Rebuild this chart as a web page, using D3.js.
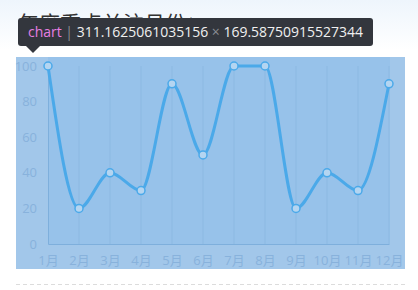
<!DOCTYPE html>
<html lang="zh">
<head>
<meta charset="UTF-8">
<title>年度重点关注月份</title>
<script src="https://d3js.org/d3.v7.min.js"></script>
<style>
    html, body { margin: 0; padding: 0; background: #fff; }
    svg { display: block; }
</style>
</head>
<body>
<svg id="chart" width="418" height="290"></svg>
<script>
    // 数据
    const months = ["1月", "2月", "3月", "4月", "5月", "6月", "7月", "8月", "9月", "10月", "11月", "12月"];
    const values = [100, 20, 40, 30, 90, 50, 100, 100, 20, 40, 30, 90];
    const yTicks = [0, 20, 40, 60, 80, 100];
    const title = "年度重点关注月份";
    const titleIcon = "\u2728\uFE0E"; // 文本样式的 ✨
    const tipParts = [
        { t: "chart", c: "#e77fe2" },
        { t: " | ", c: "#8a8d93" },
        { t: "311.1625061035156", c: "#f0f0f0" },
        { t: " × ", c: "#8a8d93" },
        { t: "169.58750915527344", c: "#f0f0f0" }
    ];

    const svg = d3.select("#chart");
    const font = "'Open Sans', 'Noto Sans CJK SC', sans-serif";

    // 顶部淡蓝背景
    const defs = svg.append("defs");
    const grad = defs.append("linearGradient").attr("id", "bg").attr("x1", 0).attr("y1", 0).attr("x2", 0).attr("y2", 1);
    grad.append("stop").attr("offset", 0).attr("stop-color", "#eef5fc");
    grad.append("stop").attr("offset", 1).attr("stop-color", "#ffffff");
    svg.append("rect").attr("width", 418).attr("height", 50).attr("fill", "url(#bg)");

    // 标题
    const tl = svg.append("text")
        .attr("x", 18).attr("y", 31)
        .attr("font-family", font).attr("font-size", 21)
        .attr("fill", "#333");
    tl.append("tspan").text(title);
    tl.append("tspan").attr("font-family", "'DejaVu Sans'").attr("fill", "#222").text(titleIcon);

    // 高亮区域 (chart 元素)
    svg.append("rect").attr("x", 16).attr("y", 57).attr("width", 389).attr("height", 212).attr("fill", "#a2c7ea");

    const x = d3.scalePoint().domain(months).range([48, 389]);
    const y = d3.scaleLinear().domain([0, 100]).range([244, 66]);

    svg.append("rect")
        .attr("x", x.range()[0]).attr("y", 57)
        .attr("width", x.range()[1] - x.range()[0] + 1).attr("height", y(0) - 57)
        .attr("fill", "#97c2ea");

    // 竖向网格
    svg.append("g").selectAll("line").data(months.slice(1)).join("line")
        .attr("x1", d => x(d)).attr("x2", d => x(d))
        .attr("y1", y(100)).attr("y2", y(0))
        .attr("stroke", "#8cb9e2").attr("stroke-width", 1);

    // 坐标轴
    const yAxis = svg.append("g").attr("transform", `translate(${x(months[0])},0)`)
        .call(d3.axisLeft(y).tickValues(yTicks).tickSize(0).tickPadding(11));
    const xAxis = svg.append("g").attr("transform", `translate(0,${y(0)})`)
        .call(d3.axisBottom(x).tickSize(0).tickPadding(12));
    [yAxis, xAxis].forEach(a => {
        a.select(".domain").attr("stroke", "#7eafdc");
        a.selectAll("text").attr("fill", "#88b2dc").attr("font-size", 13).attr("font-family", font);
    });

    // 曲线
    const line = d3.line().x((d, i) => x(months[i])).y(d => y(d)).curve(d3.curveMonotoneX);
    svg.append("path").datum(values)
        .attr("d", line)
        .attr("fill", "none")
        .attr("stroke", "#4ba9e9")
        .attr("stroke-width", 3);

    svg.append("g").selectAll("circle").data(values).join("circle")
        .attr("cx", (d, i) => x(months[i])).attr("cy", d => y(d))
        .attr("r", 4)
        .attr("fill", "#b4d5f1")
        .attr("stroke", "#4ba9e9").attr("stroke-width", 1.5);

    // 底部虚线
    svg.append("line").attr("x1", 16).attr("x2", 405).attr("y1", 284.5).attr("y2", 284.5)
        .attr("stroke", "#dcdcdc").attr("stroke-dasharray", "4,3");

    // 元素提示框
    const tip = svg.append("g");
    tip.append("rect").attr("x", 18).attr("y", 18).attr("width", 355).attr("height", 28).attr("rx", 3).attr("fill", "#33363d");
    tip.append("path").attr("d", "M26,46 L40,46 L33,53 Z").attr("fill", "#33363d");
    const tt = tip.append("text").attr("x", 28).attr("y", 37)
        .attr("font-family", font).attr("font-size", 14)
        .attr("textLength", 335).attr("lengthAdjust", "spacingAndGlyphs");
    tt.selectAll("tspan").data(tipParts).join("tspan").attr("fill", d => d.c).text(d => d.t);
</script>
</body>
</html>
